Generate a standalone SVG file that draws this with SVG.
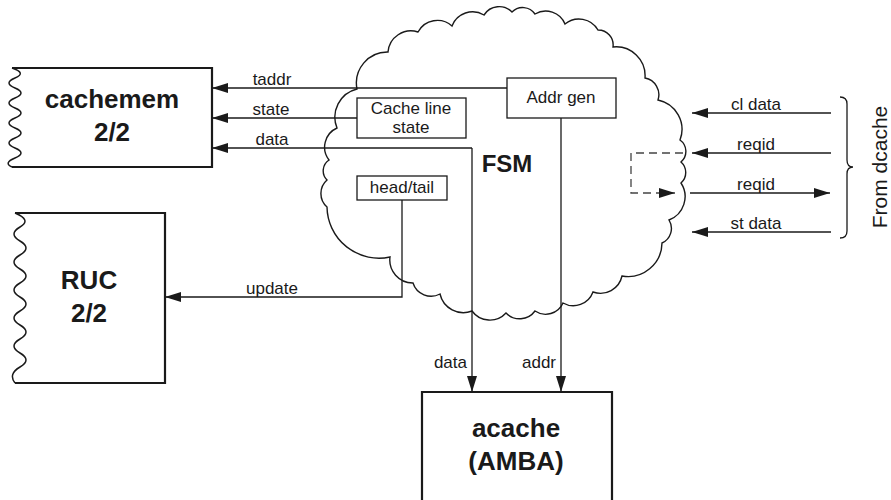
<svg xmlns="http://www.w3.org/2000/svg" width="891" height="500" viewBox="0 0 891 500">
<style>
text{font-family:"Liberation Sans",Arial,Helvetica,sans-serif;fill:#1a1a1a}
.lbl{font-size:17px}
.big{font-size:26px;font-weight:bold;text-anchor:middle}
.mid{text-anchor:middle}
.box{fill:#fff;stroke:#1a1a1a;stroke-width:2.2}
.sbox{fill:#fff;stroke:#1a1a1a;stroke-width:1.3}
.wave{fill:none;stroke:#1a1a1a;stroke-width:1.5}
.cn{fill:none;stroke:#1a1a1a;stroke-width:1.3}
.dash{fill:none;stroke:#444;stroke-width:1.3;stroke-dasharray:8 5}
.cloud{fill:none;stroke:#1a1a1a;stroke-width:1.4}
</style>
<defs>
<marker id="ah" viewBox="0 0 16 10" refX="16" refY="5" markerWidth="16" markerHeight="10" markerUnits="userSpaceOnUse" orient="auto">
<path d="M0,0 L16,5 L0,10 z" fill="#1a1a1a"/>
</marker>
</defs>

<g id="fsm-cloud">
<path class="cloud" d="M357,89 A31,31 0 0 1 388,52 A23,23 0 0 1 418,32 A22,22 0 0 1 452,26 A22,22 0 0 1 484,15 A18,18 0 0 1 512,12 A15,15 0 0 1 535,14 A21,21 0 0 1 565,24 A22,22 0 0 1 598,30 A15,15 0 0 1 613,47 A29,29 0 0 1 645,78 A17,17 0 0 1 658,100 A30,30 0 0 1 680,140 A14,14 0 0 1 681,162 A14,14 0 0 1 681,183 A25,25 0 0 1 669,220 A16,16 0 0 1 662,243 A34,34 0 0 1 622,276 A22,22 0 0 1 593,292 A21,21 0 0 1 563,303 A19,19 0 0 1 535,311 A19,19 0 0 1 506,313 A22,22 0 0 1 472,311 A24,24 0 0 1 440,294 A19,19 0 0 1 413,283 A23,23 0 0 1 390,257 A52,52 0 0 1 327,207 A18,18 0 0 1 327,180 A13,13 0 0 1 329,160 A21,21 0 0 1 337,128 A29,29 0 0 1 357,89 Z"/>
<text x="507" y="172" style="font-size:24px;font-weight:bold;text-anchor:middle">FSM</text>
</g>

<g id="cachemem">
<path class="box" d="M12,68 H212 V167 H12"/>
<path class="wave" d="M12,68 Q27,73 15,78 T15,88 T15,98 T15,108 T15,118 T15,128 T15,138 T15,148 T15,158 T12,167"/>
<text class="big" x="112" y="108">cachemem</text>
<text class="big" x="112" y="141">2/2</text>
</g>

<g id="ruc">
<path class="box" d="M15,213 H165 V383 H15"/>
<path class="wave" d="M15,213 Q32,220 20,227 T20,241 T20,255 T20,269 T20,283 T20,297 T20,311 T20,325 T20,339 T20,353 T20,367 T15,383"/>
<text class="big" x="89" y="289">RUC</text>
<text class="big" x="89" y="322">2/2</text>
</g>

<g id="acache">
<path class="box" d="M422,510 V392 H612 V510"/>
<text class="big" x="516" y="437">acache</text>
<text class="big" x="516" y="470">(AMBA)</text>
</g>

<g id="addr-gen">
<rect class="sbox" x="507" y="78" width="109" height="40"/>
<text class="lbl mid" x="561" y="103">Addr gen</text>
</g>

<g id="cache-line-state">
<rect class="sbox" x="357" y="98" width="109" height="40"/>
<text class="lbl mid" x="411" y="114">Cache line</text>
<text class="lbl mid" x="411" y="133">state</text>
</g>

<g id="head-tail">
<rect class="sbox" x="357" y="176" width="90" height="24"/>
<text class="lbl mid" x="402" y="193">head/tail</text>
</g>

<g id="connectors">
<path class="cn" d="M507,88 H212" marker-end="url(#ah)"/>
<path class="cn" d="M357,118 H212" marker-end="url(#ah)"/>
<path class="cn" d="M472,148 H212" marker-end="url(#ah)"/>
<path class="cn" d="M472,148 V392" marker-end="url(#ah)"/>
<path class="cn" d="M561,118 V392" marker-end="url(#ah)"/>
<path class="cn" d="M402,200 V297 H165" marker-end="url(#ah)"/>
<path class="cn" d="M831,113 H692" marker-end="url(#ah)"/>
<path class="cn" d="M831,153 H692" marker-end="url(#ah)"/>
<path class="cn" d="M690,193 H830" marker-end="url(#ah)"/>
<path class="cn" d="M831,232 H692" marker-end="url(#ah)"/>
<path class="dash" d="M683,153 H631 V193 H675" marker-end="url(#ah)"/>
<path class="cn" d="M840,97 Q847,97 847,104 V160 Q847,167 853,167 Q847,167 847,174 V231 Q847,238 840,238"/>
<text class="lbl mid" x="272" y="85">taddr</text>
<text class="lbl mid" x="271" y="115">state</text>
<text class="lbl mid" x="272" y="145">data</text>
<text class="lbl mid" x="272" y="294">update</text>
<text class="lbl" x="467" y="368" text-anchor="end">data</text>
<text class="lbl" x="556" y="368" text-anchor="end">addr</text>
<text class="lbl mid" x="756" y="110">cl data</text>
<text class="lbl mid" x="756" y="150">reqid</text>
<text class="lbl mid" x="756" y="190">reqid</text>
<text class="lbl mid" x="756" y="229">st data</text>
<text x="887" y="167" transform="rotate(-90 887 167)" style="font-size:21px;text-anchor:middle">From dcache</text>
</g>
</svg>
